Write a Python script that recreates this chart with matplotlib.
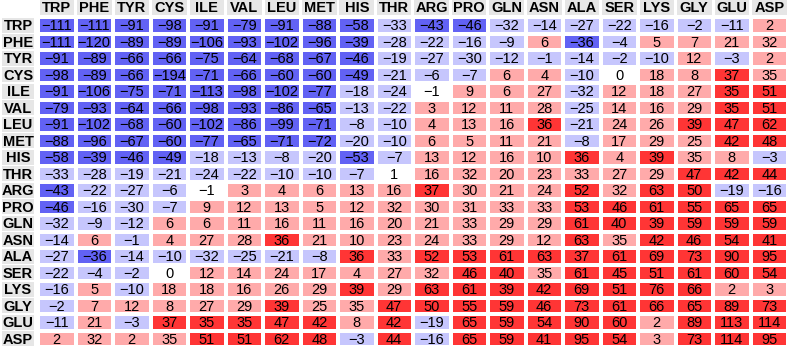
import numpy as np
import matplotlib
matplotlib.use("Agg")
import matplotlib.pyplot as plt
from matplotlib.colors import ListedColormap, BoundaryNorm
from matplotlib.patches import Rectangle

labels = ["TRP", "PHE", "TYR", "CYS", "ILE", "VAL", "LEU", "MET", "HIS", "THR",
          "ARG", "PRO", "GLN", "ASN", "ALA", "SER", "LYS", "GLY", "GLU", "ASP"]

row_TRP = [-111, -111, -91, -98, -91, -79, -91, -88, -58, -33, -43, -46, -32, -14, -27, -22, -16, -2, -11, 2]
row_PHE = [-111, -120, -89, -89, -106, -93, -102, -96, -39, -28, -22, -16, -9, 6, -36, -4, 5, 7, 21, 32]
row_TYR = [-91, -89, -66, -66, -75, -64, -68, -67, -46, -19, -27, -30, -12, -1.3, -14, -2, -10, 12, -3, 2]
row_CYS = [-98, -89, -66, -194, -71, -66, -60, -60, -49, -21, -6, -7, 6, 4, -10, 0, 18, 8, 37, 34.6]
row_ILE = [-91, -106, -75, -71, -113, -98, -102, -77, -18, -24, -1, 9, 6, 27, -32, 12, 18, 27, 35.4, 51]
row_VAL = [-79, -93, -64, -66, -98, -93, -86, -65, -13, -22, 3, 12, 11, 28, -25, 14, 16, 29, 35.4, 51]
row_LEU = [-91, -102, -68, -60, -102, -86, -99, -71, -8, -10, 4, 13, 16, 36, -21, 24, 26, 39, 47, 62]
row_MET = [-88, -96, -67, -60, -77, -65, -71, -72, -20, -10, 6, 5, 11, 21, -8, 17, 29, 25, 42, 48]
row_HIS = [-58, -39, -46, -49, -18, -13, -8, -20, -53, -7, 13, 12, 16, 10, 36, 4, 39, 34.6, 8, -3]
row_THR = [-33, -28, -19, -21, -24, -22, -10, -10, -7, 1, 16, 32, 20, 23, 33, 27, 29, 47, 42, 44]
row_ARG = [-43, -22, -27, -6, -1, 3, 4, 6, 13, 16, 37, 30, 21, 24, 52, 32, 63, 50, -19, -16]
row_PRO = [-46, -16, -30, -7, 9, 12, 13, 5, 12, 32, 30, 31, 33, 33, 53, 46, 61, 55, 65, 65]
row_GLN = [-32, -9, -12, 6, 6, 11, 16, 11, 16, 20, 21, 33, 29, 29, 61, 40, 39, 59, 59, 59]
row_ASN = [-14, 6, -1.3, 4, 27, 28, 36, 21, 10, 23, 24, 33, 29, 12, 63, 34.6, 42, 46, 54, 41]
row_ALA = [-27, -36, -14, -10, -32, -25, -21, -8, 36, 33, 52, 53, 61, 63, 37, 61, 69, 73, 90, 95]
row_SER = [-22, -4, -2, 0, 12, 14, 24, 17, 4, 27, 32, 46, 40, 34.6, 61, 45, 51, 61, 60, 54]
row_LYS = [-16, 5, -10, 18, 18, 16, 26, 29, 39, 29, 63, 61, 39, 42, 69, 51, 76, 66, 2, 3]
row_GLY = [-2, 7, 12, 8, 27, 29, 39, 25, 34.6, 47, 50, 55, 59, 46, 73, 61, 66, 65, 89, 73]
row_GLU = [-11, 21, -3, 37, 35.4, 35.4, 47, 42, 8, 42, -19, 65, 59, 54, 90, 60, 2, 89, 113, 114]
row_ASP = [2, 32, 2, 34.6, 51, 51, 62, 48, -3, 44, -16, 65, 59, 41, 95, 54, 3, 73, 114, 95]

rows = [row_TRP, row_PHE, row_TYR, row_CYS, row_ILE, row_VAL, row_LEU, row_MET, row_HIS, row_THR,
        row_ARG, row_PRO, row_GLN, row_ASN, row_ALA, row_SER, row_LYS, row_GLY, row_GLU, row_ASP]
M = np.array(rows, dtype=float)
n = len(labels)

W, H = 789, 348
fig = plt.figure(figsize=(W / 100, H / 100), dpi=100)

left, right, top, bottom = 38, 788, 17, 347
ax = fig.add_axes([left / W, 1 - bottom / H, (right - left) / W, (bottom - top) / H])

cmap = ListedColormap(["#6262f4", "#c6c6fd", "#ffffff", "#ffaaaa", "#ff3535"])
norm = BoundaryNorm([-1000, -35, -1, 2, 35, 1000], cmap.N)

ax.pcolormesh(np.arange(n + 1), np.arange(n + 1), M, cmap=cmap, norm=norm,
              edgecolors="white", linewidth=1.6)
ax.set_xlim(0, n)
ax.set_ylim(n, 0)
ax.axis("off")

fnum = dict(family="Liberation Sans", fontsize=10.5)
flab = dict(family="Liberation Sans", fontsize=10.5, fontweight="bold")

for i in range(n):
    for j in range(n):
        v = int(round(M[i, j]))
        s = str(v).replace("-", "\u2212")
        ax.text(j + 0.5, i + 0.55, s, ha="center", va="center", color="black", **fnum)

col_w = (right - left) / n
row_h = (bottom - top) / n
hdr_top = -top / row_h
hdr_bot = -2 / row_h
for j, lab in enumerate(labels):
    ax.add_patch(Rectangle((j + 0.04, hdr_top), 0.92, hdr_bot - hdr_top, facecolor="#e6e6e6",
                           edgecolor="none", clip_on=False))
    ax.text(j + 0.5, (hdr_top + hdr_bot) / 2 + 0.05, lab, ha="center", va="center", clip_on=False, **flab)

lab_l = (2 - left) / col_w
lab_r = (34 - left) / col_w
for i, lab in enumerate(labels):
    ax.add_patch(Rectangle((lab_l, i + 0.06), lab_r - lab_l, 0.88, facecolor="#e6e6e6",
                           edgecolor="none", clip_on=False))
    ax.text((lab_l + lab_r) / 2, i + 0.55, lab, ha="center", va="center", clip_on=False, **flab)

fig.savefig("out.png", dpi=100)
